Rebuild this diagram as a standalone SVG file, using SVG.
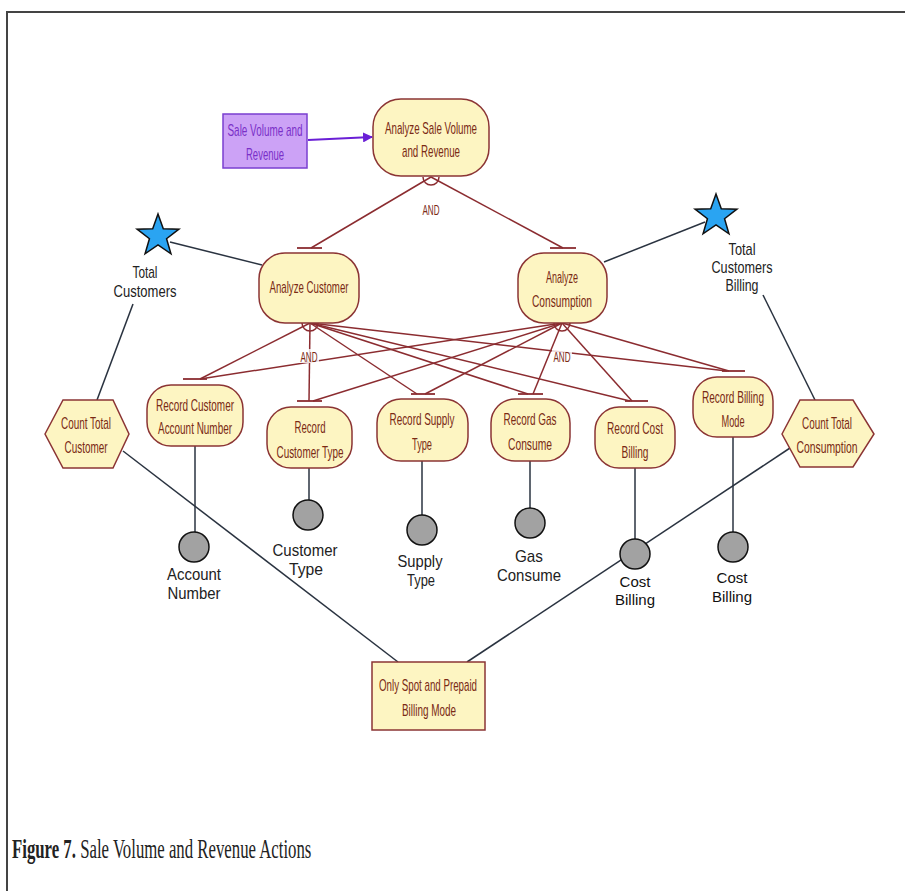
<svg xmlns="http://www.w3.org/2000/svg" width="905" height="891" viewBox="0 0 905 891">
<style>
.node{fill:#fdf5c2;stroke:#8b3434;stroke-width:1.5}
.nt{font-family:"Liberation Sans",Arial,sans-serif;font-size:17px;fill:#7a2a14;text-anchor:middle}
.rel{stroke:#8b2c30;stroke-width:1.5;fill:none}
.tbar{stroke:#8b2c30;stroke-width:1.8}
.blk{stroke:#2a3340;stroke-width:1.5;fill:none}
.dot{fill:#a2a2a2;stroke:#111;stroke-width:1.5}
.lbl{font-family:"Liberation Sans",Arial,sans-serif;font-size:17px;fill:#222;text-anchor:middle}
.and{font-family:"Liberation Sans",Arial,sans-serif;font-size:15px;fill:#7a2a14;text-anchor:middle}
.andbg{fill:#fff;opacity:0.8}
.star{fill:#2aa4f2;stroke:#111;stroke-width:1.5}
.cap{font-family:"Liberation Serif","Times New Roman",serif;font-size:27px;fill:#222}
</style>
<defs>
<marker id="arr" markerWidth="10" markerHeight="10" refX="9" refY="5" orient="auto" markerUnits="userSpaceOnUse">
<path d="M0,0 L10,5 L0,10 Z" fill="#6a1fd6"/>
</marker>
<path id="starShape" d="M0,-22 L5.29,-7.28 L20.92,-6.8 L8.56,2.78 L12.93,17.8 L0,9 L-12.93,17.8 L-8.56,2.78 L-20.92,-6.8 L-5.29,-7.28 Z"/>
</defs>
<rect width="905" height="891" fill="#fff"/>
<path d="M7,891 L7,12 L905,12" fill="none" stroke="#444" stroke-width="2"/>

<g id="connectors">
<line x1="308" y1="140" x2="372" y2="137" stroke="#6a1fd6" stroke-width="2" marker-end="url(#arr)"/>
<line class="rel" x1="431" y1="177" x2="311" y2="248"/>
<line class="rel" x1="431" y1="177" x2="563" y2="248"/>
<path class="rel" d="M423,177 A8,8 0 0 0 439,177"/>
<path class="rel" d="M302,323 A8,8 0 0 0 318,323"/>
<path class="rel" d="M554,323 A8,8 0 0 0 570,323"/>
<line class="rel" x1="310" y1="323" x2="200" y2="379"/>
<line class="rel" x1="310" y1="323" x2="309" y2="401" stroke="#c07a80"/>
<line class="rel" x1="310" y1="323" x2="417" y2="394"/>
<line class="rel" x1="310" y1="323" x2="528" y2="394"/>
<line class="rel" x1="310" y1="323" x2="630" y2="401"/>
<line class="rel" x1="310" y1="323" x2="727" y2="371"/>
<line class="rel" x1="562" y1="323" x2="200" y2="379"/>
<line class="rel" x1="562" y1="323" x2="313" y2="401"/>
<line class="rel" x1="562" y1="323" x2="425" y2="394"/>
<line class="rel" x1="562" y1="323" x2="533" y2="394"/>
<line class="rel" x1="562" y1="323" x2="632" y2="401"/>
<line class="rel" x1="562" y1="323" x2="729" y2="371"/>
<line class="tbar" x1="297" y1="248" x2="322" y2="248"/>
<line class="tbar" x1="550" y1="248" x2="576" y2="248"/>
<line class="tbar" x1="183" y1="379" x2="207" y2="379"/>
<line class="tbar" x1="297" y1="401" x2="322" y2="401"/>
<line class="tbar" x1="411" y1="394" x2="435" y2="394"/>
<line class="tbar" x1="518" y1="394" x2="543" y2="394"/>
<line class="tbar" x1="625" y1="401" x2="648" y2="401"/>
<line class="tbar" x1="722" y1="371" x2="745" y2="371"/>
<line class="blk" x1="170" y1="242" x2="262" y2="265"/>
<line class="blk" x1="133" y1="304" x2="97" y2="400"/>
<line class="blk" x1="604" y1="262" x2="705" y2="222"/>
<line class="blk" x1="763" y1="295" x2="815" y2="400"/>
<line class="blk" x1="123" y1="451" x2="398" y2="662"/>
<line class="blk" x1="790" y1="448" x2="467" y2="662"/>
<line class="blk" x1="195" y1="446" x2="195" y2="532"/>
<line class="blk" x1="309" y1="468" x2="309" y2="500"/>
<line class="blk" x1="422" y1="461" x2="422" y2="515"/>
<line class="blk" x1="530" y1="461" x2="530" y2="508"/>
<line class="blk" x1="635" y1="468" x2="635" y2="539"/>
<line class="blk" x1="733" y1="437" x2="733" y2="532"/>
<rect class="andbg" x="421" y="203" width="20" height="14"/>
<rect class="andbg" x="299" y="349" width="20" height="14"/>
<rect class="andbg" x="552" y="349" width="20" height="14"/>
<text class="and" x="431" y="215" textLength="17" lengthAdjust="spacingAndGlyphs">AND</text>
<text class="and" x="309" y="362" textLength="17" lengthAdjust="spacingAndGlyphs">AND</text>
<text class="and" x="562" y="362" textLength="17" lengthAdjust="spacingAndGlyphs">AND</text>
</g>

<g id="sale-volume-goal">
<rect x="223" y="114" width="84" height="54" fill="#cca2f6" stroke="#7a3fd0" stroke-width="1.5"/>
<text class="nt" style="fill:#7a30c8" x="265" y="136" textLength="75" lengthAdjust="spacingAndGlyphs">Sale Volume and</text>
<text class="nt" style="fill:#7a30c8" x="265" y="160" textLength="38" lengthAdjust="spacingAndGlyphs">Revenue</text>
</g>

<g id="analyze-sale-volume">
<rect class="node" x="373" y="99" width="116" height="77" rx="28"/>
<text class="nt" x="431" y="134" textLength="92" lengthAdjust="spacingAndGlyphs">Analyze Sale Volume</text>
<text class="nt" x="431" y="157" textLength="58" lengthAdjust="spacingAndGlyphs">and Revenue</text>
</g>

<g id="analyze-customer">
<rect class="node" x="259" y="253" width="100" height="70" rx="26"/>
<text class="nt" x="309" y="293" textLength="79" lengthAdjust="spacingAndGlyphs">Analyze Customer</text>
</g>

<g id="analyze-consumption">
<rect class="node" x="518" y="253" width="89" height="70" rx="26"/>
<text class="nt" x="562" y="283" textLength="32" lengthAdjust="spacingAndGlyphs">Analyze</text>
<text class="nt" x="562" y="307" textLength="60" lengthAdjust="spacingAndGlyphs">Consumption</text>
</g>

<g id="total-customers">
<use href="#starShape" class="star" transform="translate(158,236)"/>
<text class="lbl" x="145" y="278" textLength="25" lengthAdjust="spacingAndGlyphs">Total</text>
<text class="lbl" x="145" y="297" textLength="63" lengthAdjust="spacingAndGlyphs">Customers</text>
</g>

<g id="total-customers-billing">
<use href="#starShape" class="star" transform="translate(716,216)"/>
<text class="lbl" x="742" y="255" textLength="27" lengthAdjust="spacingAndGlyphs">Total</text>
<text class="lbl" x="742" y="273" textLength="61" lengthAdjust="spacingAndGlyphs">Customers</text>
<text class="lbl" x="742" y="291" textLength="33" lengthAdjust="spacingAndGlyphs">Billing</text>
</g>

<g id="count-total-customer">
<polygon class="node" points="45,434 63,400 113,400 129,434 113,468 63,468"/>
<text class="nt" x="86" y="429" textLength="50" lengthAdjust="spacingAndGlyphs">Count Total</text>
<text class="nt" x="86" y="453" textLength="43" lengthAdjust="spacingAndGlyphs">Customer</text>
</g>

<g id="record-account-number">
<rect class="node" x="147" y="385" width="96" height="61" rx="24"/>
<text class="nt" x="195" y="411" textLength="78" lengthAdjust="spacingAndGlyphs">Record Customer</text>
<text class="nt" x="195" y="434" textLength="74" lengthAdjust="spacingAndGlyphs">Account Number</text>
</g>

<g id="record-customer-type">
<rect class="node" x="267" y="407" width="85" height="61" rx="24"/>
<text class="nt" x="310" y="433" textLength="31" lengthAdjust="spacingAndGlyphs">Record</text>
<text class="nt" x="310" y="458" textLength="67" lengthAdjust="spacingAndGlyphs">Customer Type</text>
</g>

<g id="record-supply-type">
<rect class="node" x="377" y="399" width="91" height="62" rx="24"/>
<text class="nt" x="422" y="425" textLength="65" lengthAdjust="spacingAndGlyphs">Record Supply</text>
<text class="nt" x="422" y="450" textLength="20" lengthAdjust="spacingAndGlyphs">Type</text>
</g>

<g id="record-gas-consume">
<rect class="node" x="491" y="399" width="79" height="62" rx="24"/>
<text class="nt" x="530" y="425" textLength="53" lengthAdjust="spacingAndGlyphs">Record Gas</text>
<text class="nt" x="530" y="450" textLength="44" lengthAdjust="spacingAndGlyphs">Consume</text>
</g>

<g id="record-cost-billing">
<rect class="node" x="595" y="407" width="80" height="61" rx="24"/>
<text class="nt" x="635" y="434" textLength="56" lengthAdjust="spacingAndGlyphs">Record Cost</text>
<text class="nt" x="635" y="458" textLength="27" lengthAdjust="spacingAndGlyphs">Billing</text>
</g>

<g id="record-billing-mode">
<rect class="node" x="693" y="377" width="80" height="60" rx="24"/>
<text class="nt" x="733" y="403" textLength="62" lengthAdjust="spacingAndGlyphs">Record Billing</text>
<text class="nt" x="733" y="427" textLength="23" lengthAdjust="spacingAndGlyphs">Mode</text>
</g>

<g id="count-total-consumption">
<polygon class="node" points="782,434 800,400 853,400 874,434 853,467 800,467"/>
<text class="nt" x="827" y="429" textLength="50" lengthAdjust="spacingAndGlyphs">Count Total</text>
<text class="nt" x="827" y="453" textLength="61" lengthAdjust="spacingAndGlyphs">Consumption</text>
</g>

<g id="account-number">
<circle class="dot" cx="194" cy="547" r="15"/>
<text class="lbl" x="194" y="580" textLength="54" lengthAdjust="spacingAndGlyphs">Account</text>
<text class="lbl" x="194" y="599" textLength="53" lengthAdjust="spacingAndGlyphs">Number</text>
</g>

<g id="customer-type">
<circle class="dot" cx="308" cy="515" r="15"/>
<text class="lbl" x="305" y="556" textLength="65" lengthAdjust="spacingAndGlyphs">Customer</text>
<text class="lbl" x="306" y="575" textLength="34" lengthAdjust="spacingAndGlyphs">Type</text>
</g>

<g id="supply-type">
<circle class="dot" cx="422" cy="530" r="15"/>
<text class="lbl" x="420" y="567" textLength="45" lengthAdjust="spacingAndGlyphs">Supply</text>
<text class="lbl" x="421" y="586" textLength="28" lengthAdjust="spacingAndGlyphs">Type</text>
</g>

<g id="gas-consume">
<circle class="dot" cx="530" cy="523" r="15"/>
<text class="lbl" x="529" y="562" textLength="28" lengthAdjust="spacingAndGlyphs">Gas</text>
<text class="lbl" x="529" y="581" textLength="64" lengthAdjust="spacingAndGlyphs">Consume</text>
</g>

<g id="cost-billing-1">
<circle class="dot" cx="635" cy="554" r="15"/>
<text class="lbl" style="font-size:15px;fill:#111" x="635" y="587">Cost</text>
<text class="lbl" style="font-size:15px;fill:#111" x="635" y="605">Billing</text>
</g>

<g id="cost-billing-2">
<circle class="dot" cx="733" cy="547" r="15"/>
<text class="lbl" style="font-size:15px;fill:#111" x="732" y="583">Cost</text>
<text class="lbl" style="font-size:15px;fill:#111" x="732" y="602">Billing</text>
</g>

<g id="only-spot-prepaid">
<rect class="node" x="372" y="662" width="113" height="68"/>
<text class="nt" x="428" y="691" textLength="98" lengthAdjust="spacingAndGlyphs">Only Spot and Prepaid</text>
<text class="nt" x="429" y="716" textLength="54" lengthAdjust="spacingAndGlyphs">Billing Mode</text>
</g>

<g id="caption">
<text class="cap" transform="translate(12,858) scale(0.621,1)" x="0" y="0"><tspan font-weight="bold">Figure 7.</tspan> Sale Volume and Revenue Actions</text>
</g>
</svg>
